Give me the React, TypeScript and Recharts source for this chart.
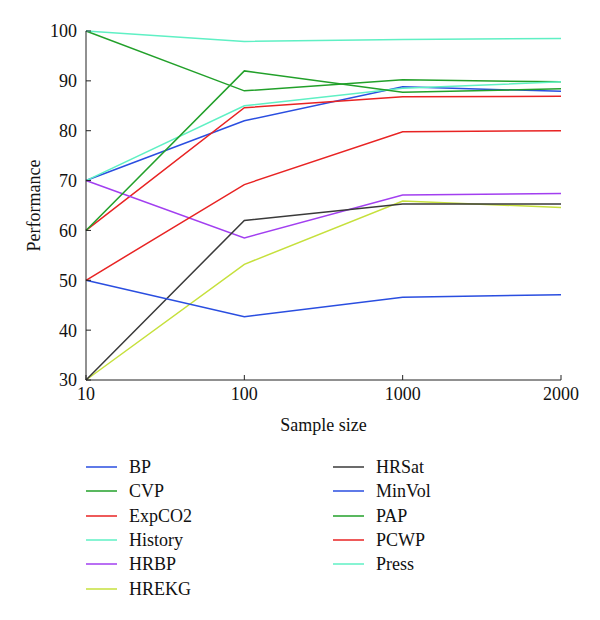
import { LineChart, Line, XAxis, YAxis, Label } from "recharts";

const sampleSizes = ["10", "100", "1000", "2000"];
const yTicks = [30, 40, 50, 60, 70, 80, 90, 100];

const bp = [70, 82, 88.8, 87.9];
const cvp = [100, 88, 90.2, 89.8];
const expCO2 = [60, 84.6, 86.8, 86.9];
const history = [70, 85, 88.5, 89.8];
const hrbp = [70, 58.5, 67.1, 67.4];
const hrekg = [30, 53.2, 65.9, 64.6];
const hrsat = [30, 62, 65.3, 65.3];
const minVol = [50, 42.7, 46.6, 47.1];
const pap = [60, 92, 87.7, 88.4];
const pcwp = [50, 69.2, 79.8, 80];
const press = [100, 97.9, 98.3, 98.5];

const series = [
  { key: "BP", values: bp, color: "#2a4ee0" },
  { key: "CVP", values: cvp, color: "#22a02a" },
  { key: "ExpCO2", values: expCO2, color: "#e82323" },
  { key: "History", values: history, color: "#5ff0c4" },
  { key: "HRBP", values: hrbp, color: "#a23ff0" },
  { key: "HREKG", values: hrekg, color: "#c6e03c" },
  { key: "HRSat", values: hrsat, color: "#3a3a3a" },
  { key: "MinVol", values: minVol, color: "#2a4ee0" },
  { key: "PAP", values: pap, color: "#22a02a" },
  { key: "PCWP", values: pcwp, color: "#e82323" },
  { key: "Press", values: press, color: "#5ff0c4" },
];

const data = sampleSizes.map((n, i) => {
  const row: Record<string, string | number> = { n };
  series.forEach((s) => (row[s.key] = s.values[i]));
  return row;
});

const font = "'Liberation Serif', 'Times New Roman', serif";

function LegendBox() {
  return (
    <div style={{ position: "absolute", left: 0, top: 449, width: 592, height: 150 }}>
      {series.map((s, i) => {
        const col = i < 6 ? 0 : 1;
        const row = i < 6 ? i : i - 6;
        return (
          <div
            key={s.key}
            style={{
              position: "absolute",
              left: col === 0 ? 78 : 325,
              top: row * 24.3,
              height: 20,
              display: "flex",
              alignItems: "center",
            }}
          >
            <svg width={31} height={4} style={{ display: "block" }}>
              <line x1={0} y1={2} x2={31} y2={2} stroke={s.color} strokeWidth={1.5} />
            </svg>
            <span style={{ marginLeft: 12, fontSize: 18, color: "#111", lineHeight: "20px" }}>
              {s.key}
            </span>
          </div>
        );
      })}
    </div>
  );
}

export default function App() {
  return (
    <div style={{ fontFamily: font, position: "relative", width: 592, height: 604 }}>
      <LineChart
        width={592}
        height={430}
        data={data}
        margin={{ top: 23, right: 39, bottom: 28, left: 38 }}
      >
        <XAxis
          dataKey="n"
          stroke="#222"
          tickSize={-5}
          tickMargin={12}
          tick={{ fill: "#111", fontSize: 18, fontFamily: font }}
          height={30}
          interval={0}
        >
          <Label
            value="Sample size"
            position="bottom"
            offset={8}
            style={{ fill: "#111", fontSize: 18, fontFamily: font }}
          />
        </XAxis>
        <XAxis
          xAxisId="top"
          dataKey="n"
          orientation="top"
          stroke="#222"
          tickSize={-5}
          tick={false}
          height={0}
          interval={0}
        />
        <YAxis
          domain={[30, 100]}
          ticks={yTicks}
          stroke="#222"
          tickSize={-5}
          tickMargin={14}
          width={40}
          tick={{ fill: "#111", fontSize: 18, fontFamily: font }}
        >
          <Label
            value="Performance"
            angle={-90}
            position="left"
            offset={12}
            style={{ fill: "#111", fontSize: 18, fontFamily: font, textAnchor: "middle" }}
          />
        </YAxis>
        <YAxis
          yAxisId="right"
          orientation="right"
          domain={[30, 100]}
          ticks={yTicks}
          stroke="#222"
          tickSize={-5}
          tick={false}
          width={0}
        />
        {series.map((s) => (
          <Line
            key={s.key}
            dataKey={s.key}
            stroke={s.color}
            strokeWidth={1.5}
            dot={false}
            isAnimationActive={false}
          />
        ))}
      </LineChart>
      <LegendBox />
    </div>
  );
}
